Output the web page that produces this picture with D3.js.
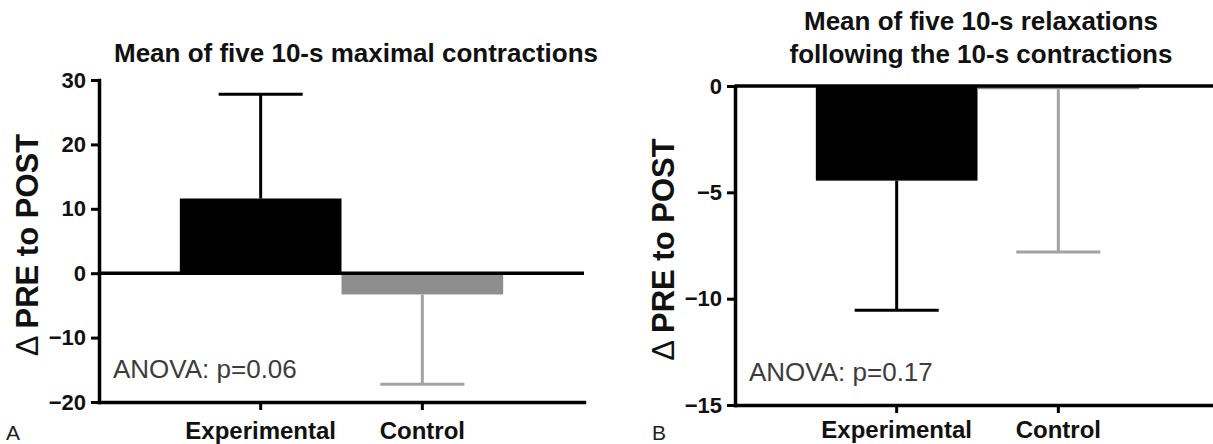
<!DOCTYPE html>
<html>
<head>
<meta charset="utf-8">
<script src="https://cdn.jsdelivr.net/npm/d3@7"></script>
<style>
  body { margin: 0; background: #fff; }
  svg { display: block; font-family: "Liberation Sans", Arial, sans-serif; }
</style>
</head>
<body>
<div id="chart"></div>
<script>
// values
const categories = ["Experimental", "Control"];

const meansA = [11.6, -3.3];
const errA = [16.2, 13.95];
const ticksA = [-20, -10, 0, 10, 20, 30];
const titleA = ["Mean of five 10-s maximal contractions"];
const anovaA = "ANOVA: p=0.06";

const meansB = [-4.45, -0.15];
const errB = [6.1, 7.65];
const ticksB = [-15, -10, -5, 0];
const titleB = ["Mean of five 10-s relaxations", "following the 10-s contractions"];
const anovaB = "ANOVA: p=0.17";

const yLabel = "PRE to POST";

function drawPanel(svg, p) {
    let g = svg.append("g");

    let x = d3.scaleBand()
        .domain(categories)
        .range([p.left, p.left + p.width])
        .paddingInner(0)
        .paddingOuter(0.5);

    let y = d3.scaleLinear()
        .domain(p.domain)
        .range([p.bottom, p.top]);

    let fill = ["#000000", "#8e8e8e"];
    let errColor = ["#000000", "#a2a2a2"];

    // bars
    g.selectAll("rect.bar")
        .data(p.means)
        .enter()
        .append("rect")
        .attr("class", "bar")
        .attr("x", (d, i) => x(categories[i]))
        .attr("width", x.bandwidth())
        .attr("y", d => y(Math.max(0, d)))
        .attr("height", d => Math.abs(y(d) - y(0)))
        .style("fill", (d, i) => fill[i]);

    // error bars, away from zero
    let cap = x.bandwidth() * 0.52;
    p.means.forEach(function(m, i) {
        let cx = x(categories[i]) + x.bandwidth() / 2;
        let end = m + Math.sign(m) * p.err[i];
        g.append("line")
            .attr("x1", cx).attr("x2", cx)
            .attr("y1", y(m)).attr("y2", y(end))
            .style("stroke", errColor[i])
            .style("stroke-width", 3);
        g.append("line")
            .attr("x1", cx - cap / 2).attr("x2", cx + cap / 2)
            .attr("y1", y(end)).attr("y2", y(end))
            .style("stroke", errColor[i])
            .style("stroke-width", 3);
    });

    // zero line
    g.append("line")
        .attr("x1", p.left).attr("x2", p.left + p.width)
        .attr("y1", y(0)).attr("y2", y(0))
        .style("stroke", "#000")
        .style("stroke-width", 3.5);

    // y axis
    let yAxis = g.append("g")
        .attr("transform", "translate(" + p.left + ",0)")
        .call(d3.axisLeft(y).tickValues(p.ticks).tickSize(8).tickSizeOuter(0).tickPadding(5));

    // x axis at the bottom
    let xAxis = g.append("g")
        .attr("transform", "translate(0," + p.bottom + ")")
        .call(d3.axisBottom(x).tickSize(8).tickSizeOuter(0).tickPadding(p.labelPad));

    [yAxis, xAxis].forEach(function(a) {
        a.select(".domain").style("stroke", "#000").style("stroke-width", 3.5).style("stroke-linecap", "square");
        a.selectAll(".tick line").style("stroke", "#000").style("stroke-width", 3);
        a.selectAll(".tick text")
            .style("fill", "#111")
            .style("font-weight", "bold");
    });
    yAxis.selectAll(".tick text").style("font-size", "22px");
    xAxis.selectAll(".tick text").style("font-size", "24px");

    // y label
    let lab = g.append("text")
        .attr("transform", "translate(" + (p.left - 61) + "," + ((p.top + p.bottom) / 2 + 4) + ") rotate(-90)")
        .attr("text-anchor", "middle")
        .style("font-size", "31px")
        .style("fill", "#111");
    lab.append("tspan").style("font-weight", "normal").text("\u0394 ");
    lab.append("tspan").style("font-weight", "bold").text(yLabel);

    // title
    g.selectAll("text.title")
        .data(p.title)
        .enter()
        .append("text")
        .attr("class", "title")
        .attr("x", p.titleX)
        .attr("y", (d, i) => p.titleY + i * 33)
        .attr("text-anchor", "middle")
        .style("font-size", "26px")
        .style("font-weight", "bold")
        .style("fill", "#111")
        .text(d => d);

    // anova note
    g.append("text")
        .attr("x", p.left + 14)
        .attr("y", p.bottom - 24)
        .style("font-size", "26px")
        .style("fill", "#3c3c3c")
        .text(p.anova);

    // panel letter
    g.append("text")
        .attr("x", p.letterX)
        .attr("y", 440)
        .style("font-size", "21px")
        .style("fill", "#222")
        .text(p.letter);
}

let svg = d3.select("#chart")
    .append("svg")
    .attr("width", 1213)
    .attr("height", 444);

drawPanel(svg, {
    left: 99, width: 485, top: 80, bottom: 402,
    domain: [-20, 30], ticks: ticksA,
    means: meansA, err: errA,
    title: titleA, titleX: 356, titleY: 62,
    anova: anovaA, letter: "A", letterX: 6, labelPad: 12
});

drawPanel(svg, {
    left: 735, width: 485, top: 86, bottom: 405,
    domain: [-15, 0], ticks: ticksB,
    means: meansB, err: errB,
    title: titleB, titleX: 981, titleY: 30,
    anova: anovaB, letter: "B", letterX: 652, labelPad: 8
});
</script>
</body>
</html>
